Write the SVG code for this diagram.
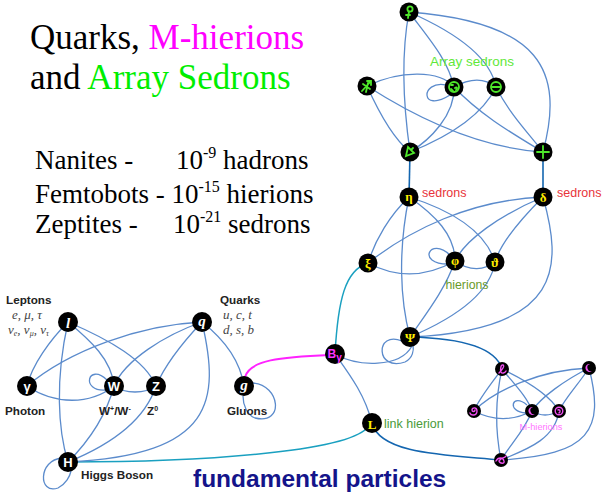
<svg xmlns="http://www.w3.org/2000/svg" width="602" height="496" viewBox="0 0 602 496">
<style>
.e{fill:none;stroke:#5b8bcc;stroke-width:1.3}
.d{fill:none;stroke:#1466b0;stroke-width:1.6}
.t{fill:none;stroke:#1aa0c0;stroke-width:1.5}
.n{fill:#000}
.gi{fill:none;stroke:#4ee82a;stroke-width:1.8;stroke-linecap:round}
.mi{fill:none;stroke:#f050f0;stroke-width:1.4;stroke-linecap:round}
.y{font-family:"Liberation Serif",serif;font-weight:bold;font-size:13px;fill:#ffee00;text-anchor:middle}
.w{font-family:"Liberation Sans",sans-serif;font-weight:bold;font-size:13px;fill:#fff;text-anchor:middle}
.ws{font-family:"Liberation Serif",serif;font-weight:bold;font-style:italic;font-size:15px;fill:#fff;text-anchor:middle}
.lab{font-family:"Liberation Sans",sans-serif;font-weight:bold;font-size:11.7px;fill:#222}
.it{font-family:"Liberation Serif",serif;font-style:italic;font-size:13px;fill:#444}
.big{font-family:"Liberation Serif",serif;font-size:35px}
.mid{font-family:"Liberation Serif",serif;font-size:27px;fill:#000}
.sa{font-family:"Liberation Sans",sans-serif}
</style>

<g id="title">
<text class="big" x="30" y="49"><tspan fill="#000">Quarks, </tspan><tspan fill="#ff00ff">M-hierions</tspan></text>
<text class="big" x="30" y="89"><tspan fill="#000">and </tspan><tspan fill="#00ee00">Array Sedrons</tspan></text>
</g>
<g id="scales">
<text class="mid" x="35" y="169">Nanites -<tspan x="176">10</tspan><tspan font-size="16" dy="-11">-9</tspan><tspan dy="11"> hadrons</tspan></text>
<text class="mid" x="35" y="203">Femtobots - 10<tspan font-size="16" dy="-11">-15</tspan><tspan dy="11"> hierions</tspan></text>
<text class="mid" x="35" y="233">Zeptites -<tspan x="173">10</tspan><tspan font-size="16" dy="-11">-21</tspan><tspan dy="11"> sedrons</tspan></text>
</g>

<g id="connectors">
<!-- top group -->
<path class="e" d="M409,12 C400,60 404,110 410,152"/>
<path class="e" d="M409,12 C430,40 448,60 454,87"/>
<path class="e" d="M409,12 C450,30 490,55 496,87"/>
<path class="e" d="M409,12 C540,22 565,70 543,152"/>
<path class="e" d="M367,86 C400,70 440,70 454,87"/>
<path class="e" d="M446,85 C420,80 420,114 450,95"/>
<path class="e" d="M454,87 C470,78 485,78 496,87"/>
<path class="e" d="M367,86 C380,115 395,140 410,152"/>
<path class="e" d="M367,86 C420,120 480,148 543,152"/>
<path class="e" d="M454,87 C455,115 430,140 410,152"/>
<path class="e" d="M496,87 C480,120 440,140 410,152"/>
<path class="e" d="M454,87 C480,115 515,135 543,152"/>
<path class="e" d="M496,87 C510,115 530,135 543,152"/>
<path class="d" d="M410,152 L409,197"/>
<path class="d" d="M543,152 L543,197"/>
<!-- middle group -->
<path class="e" d="M409,197 C390,215 375,240 368,263"/>
<path class="e" d="M409,197 C398,250 400,300 410,337"/>
<path class="e" d="M409,197 C435,215 455,235 455,261"/>
<path class="e" d="M409,197 C450,210 485,230 495,262"/>
<path class="e" d="M543,197 C470,200 410,230 368,263"/>
<path class="e" d="M543,197 C500,215 465,240 455,261"/>
<path class="e" d="M543,197 C520,220 500,245 495,262"/>
<path class="e" d="M543,197 C562,265 565,330 410,337"/>
<path class="e" d="M368,263 C400,280 430,275 455,261"/>
<path class="e" d="M450,255 C430,236 416,264 448,264"/>
<path class="e" d="M455,261 C470,272 485,270 495,262"/>
<path class="e" d="M455,261 C445,290 425,315 410,337"/>
<path class="e" d="M495,262 C490,295 450,320 410,337"/>
<path class="t" d="M368,263 C345,270 338,300 335,354"/>
<path class="e" d="M402,341 C375,330 375,372 405,362 C413,358 414,350 413,345"/>
<path class="e" d="M335,354 C358,367 400,368 412,346"/>
<path class="d" d="M410,337 C455,338 495,345 502,369"/>
<path class="e" d="M335,354 C350,375 365,395 372,423"/>
<path d="M245,377 C250,360 280,357 330,355" fill="none" stroke="#ff22ff" stroke-width="2"/>
<path class="t" d="M68,462 C200,462 345,452 367,428"/>
<path class="d" d="M372,423 C380,455 450,455 501,460"/>
<!-- M group -->
<path class="e" d="M502,369 C490,385 478,400 474,411"/>
<path class="e" d="M502,369 C515,385 528,398 532,411"/>
<path class="e" d="M502,369 C525,380 550,395 559,411"/>
<path class="e" d="M502,369 C495,400 495,430 501,460"/>
<path class="e" d="M589,368 C540,370 495,390 474,411"/>
<path class="e" d="M589,368 C565,380 540,398 532,411"/>
<path class="e" d="M589,368 C578,385 565,398 559,411"/>
<path class="e" d="M589,368 C605,430 590,455 501,460"/>
<path class="e" d="M474,411 C495,422 515,420 532,411"/>
<path class="e" d="M527,405 C512,392 506,412 526,413"/>
<path class="e" d="M532,411 C540,416 550,416 559,411"/>
<path class="e" d="M532,411 C525,430 510,445 501,460"/>
<path class="e" d="M559,411 C555,440 525,450 501,460"/>
<!-- left group -->
<path class="e" d="M68,322 C50,340 32,365 27,386"/>
<path class="e" d="M68,322 C90,340 112,360 114,386"/>
<path class="e" d="M68,322 C110,340 145,360 156,386"/>
<path class="e" d="M68,322 C55,380 58,430 68,462"/>
<path class="e" d="M202,322 C140,325 70,350 27,386"/>
<path class="e" d="M202,322 C165,335 125,360 114,386"/>
<path class="e" d="M202,322 C185,340 165,365 156,386"/>
<path class="e" d="M202,322 C225,340 240,360 244,386"/>
<path class="e" d="M202,322 C220,400 215,455 68,462"/>
<path class="e" d="M27,386 C55,405 90,405 114,386"/>
<path class="e" d="M107,380 C88,362 80,392 106,390"/>
<path class="e" d="M114,386 C125,394 145,394 156,386"/>
<path class="e" d="M114,386 C105,420 85,445 68,462"/>
<path class="e" d="M156,386 C145,420 110,445 68,462"/>
<path class="e" d="M253,383 C280,385 285,425 255,418 C247,415 243,405 243,396"/>
<path class="e" d="M62,458 C38,460 38,495 58,488 C66,484 70,476 71,471"/>
</g>

<g id="label-array" ><text class="sa" x="472" y="66" font-size="13.5" fill="#5fe83a" text-anchor="middle">Array sedrons</text></g>
<g id="label-sedrons1"><text class="sa" x="422" y="197" font-size="12.5" fill="#e8333a">sedrons</text></g>
<g id="label-sedrons2"><text class="sa" x="557" y="197" font-size="12.5" fill="#e8333a">sedrons</text></g>
<g id="label-hierions"><text class="sa" x="467" y="289" font-size="12.3" fill="#6a9a2a" text-anchor="middle">hierions</text></g>
<g id="label-link"><text class="sa" x="384" y="428" font-size="12.5" fill="#4a9a3a">link hierion</text></g>
<g id="label-mh"><text class="sa" x="541" y="430" font-size="9.2" fill="#ff77ff" text-anchor="middle">M-hierions</text></g>
<g id="label-fund"><text class="sa" x="193" y="487" font-size="24.5" font-weight="bold" fill="#14148a">fundamental particles</text></g>

<!-- top nodes -->
<g id="node-t1"><circle class="n" cx="409" cy="12" r="9.5"/><circle class="gi" cx="410" cy="9" r="2.6"/><path class="gi" d="M409,11.5 L408,18 M406,15 L410,15"/></g>
<g id="node-t2"><circle class="n" cx="367" cy="86" r="9.5"/><path class="gi" d="M362,91 L371,81 M367,81 L371,81 L371,85 M363,84 L370,89 M366,92 L368,83"/></g>
<g id="node-t3"><circle class="n" cx="454" cy="87" r="9.5"/><circle class="gi" cx="454" cy="87" r="5"/><path class="gi" d="M451,85 L453,85 M455,88 C457,86 458,89 456,90 M451,89 L453,91" stroke-width="1.3"/></g>
<g id="node-t4"><circle class="n" cx="496" cy="87" r="9.5"/><circle class="gi" cx="496" cy="87" r="5"/><path class="gi" d="M491.5,87 L500.5,87"/></g>
<g id="node-t5"><circle class="n" cx="410" cy="152" r="9.5"/><path class="gi" d="M406,156 L408,147 L414,153 Z M411,150 L413,148" stroke-width="1.6"/></g>
<g id="node-t6"><circle class="n" cx="543" cy="152" r="9.5"/><path class="gi" d="M537,152 L549,152 M543,146 L543,158" stroke-width="2.2"/></g>

<!-- middle nodes -->
<g id="node-eta"><circle class="n" cx="409" cy="197" r="9.5"/><text class="y" x="409" y="201">η</text></g>
<g id="node-delta"><circle class="n" cx="543" cy="197" r="9.5"/><text class="y" x="543" y="201.5">δ</text></g>
<g id="node-xi"><circle class="n" cx="368" cy="263" r="9.5"/><text class="y" x="368" y="267.5">ξ</text></g>
<g id="node-phi"><circle class="n" cx="455" cy="261" r="9.5"/><text class="y" x="455" y="265">φ</text></g>
<g id="node-theta"><circle class="n" cx="495" cy="262" r="9.5"/><text class="y" x="495" y="266.5">ϑ</text></g>
<g id="node-psi"><circle class="n" cx="410" cy="337" r="10"/><text class="y" x="410" y="341.5">Ψ</text></g>
<g id="node-L"><circle class="n" cx="372" cy="423" r="10"/><text class="y" x="372" y="428.5" font-size="15">L</text></g>
<g id="node-B"><circle class="n" cx="335" cy="354" r="10"/><text class="sa" x="327.5" y="358" font-size="12" font-weight="bold" fill="#ff33ff">B<tspan font-size="10" dy="3">γ</tspan></text></g>

<!-- M nodes -->
<g id="node-m1"><circle class="n" cx="502" cy="369" r="7"/><path class="mi" d="M499,373 C502,370 505,366 503,365 C501,364 500,369 501,372 C502,374 505,373 506,371"/></g>
<g id="node-m2"><circle class="n" cx="589" cy="368" r="7"/><path d="M590,364 A4,4 0 1 0 592,371 A3,3 0 1 1 590,364 Z" fill="#f050f0"/></g>
<g id="node-m3"><circle class="n" cx="474" cy="411" r="7"/><path class="mi" d="M470,413 C471,416 477,416 477,411 C477,407 472,407 472,410 C472,412 475,412 475,410"/></g>
<g id="node-m4"><circle class="n" cx="532" cy="411" r="7"/><path d="M533,407 A4,4 0 1 0 535,414 A3,3 0 1 1 533,407 Z" fill="#f050f0"/></g>
<g id="node-m5"><circle class="n" cx="559" cy="411" r="7"/><circle class="mi" cx="559" cy="411" r="3.8"/><path class="mi" d="M558,410 C560,409 561,412 559,413"/></g>
<g id="node-m6"><circle class="n" cx="501" cy="460" r="7"/><path class="mi" d="M496,461 C498,457 503,457 504,461 C505,464 500,464 499,461 C501,458 505,458 506,456"/></g>

<!-- left nodes -->
<g id="node-l"><circle class="n" cx="68" cy="322" r="10"/><text class="ws" x="68" y="327.5">l</text></g>
<g id="node-q"><circle class="n" cx="202" cy="322" r="10"/><text class="ws" x="202" y="326">q</text></g>
<g id="node-gamma"><circle class="n" cx="27" cy="386" r="10"/><text class="w" x="27" y="391">γ</text></g>
<g id="node-W"><circle class="n" cx="114" cy="386" r="10"/><text class="w" x="114" y="391">W</text></g>
<g id="node-Z"><circle class="n" cx="156" cy="386" r="10"/><text class="w" x="156" y="391">Z</text></g>
<g id="node-g"><circle class="n" cx="244" cy="386" r="10"/><text class="ws" x="244" y="389.5">g</text></g>
<g id="node-H"><circle class="n" cx="68" cy="462" r="10"/><text class="w" x="68" y="467" font-family="Liberation Serif,serif">H</text></g>

<g id="left-labels">
<text class="lab" x="6" y="304">Leptons</text>
<text class="it" x="12" y="319">e, μ, τ</text>
<text class="it" x="8" y="334">ν<tspan font-size="8" dy="2">e</tspan><tspan dy="-2">, ν</tspan><tspan font-size="8" dy="2">μ</tspan><tspan dy="-2">, ν</tspan><tspan font-size="8" dy="2">τ</tspan></text>
<text class="lab" x="220" y="304">Quarks</text>
<text class="it" x="223" y="319" fill="#333">u, c, t</text>
<text class="it" x="223" y="334" fill="#333">d, s, b</text>
<text class="lab" x="5" y="415">Photon</text>
<text class="lab" x="99" y="415">W<tspan font-size="7" dy="-4">+</tspan><tspan dy="4">/W</tspan><tspan font-size="7" dy="-4">-</tspan></text>
<text class="lab" x="147" y="415">Z<tspan font-size="7" dy="-4">0</tspan></text>
<text class="lab" x="227" y="415">Gluons</text>
<text class="lab" x="81" y="479">Higgs Boson</text>
</g>
</svg>
